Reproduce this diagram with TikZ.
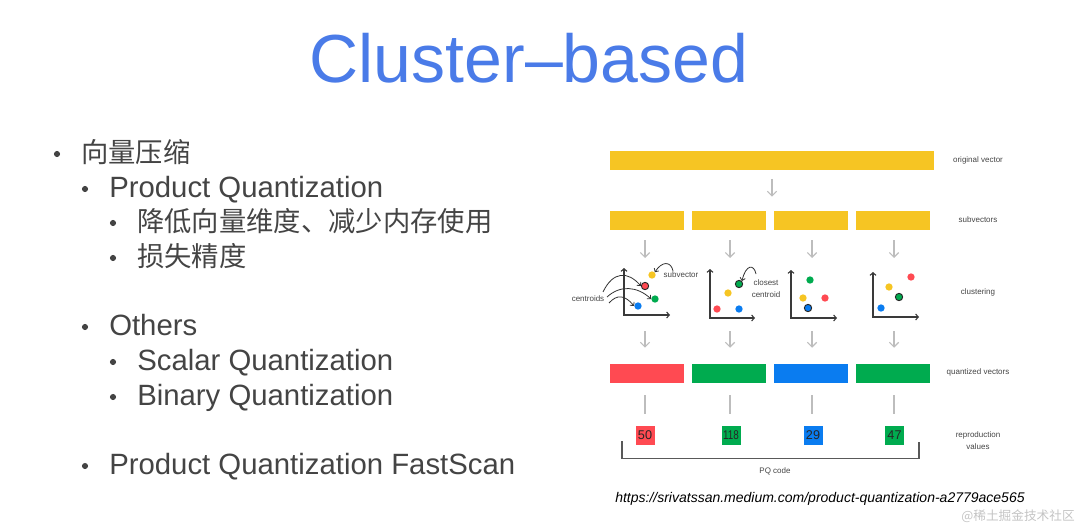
\documentclass[tikz,border=0pt]{standalone}
\usepackage{fontspec}
\usepackage{graphicx}
\setmainfont{Liberation Sans}
\newfontfamily\cjk{Noto Sans CJK SC}
\usetikzlibrary{arrows.meta}
\definecolor{titleblue}{HTML}{4A7BE8}
\definecolor{txtgray}{HTML}{444444}
\definecolor{pqyellow}{HTML}{F6C523}
\definecolor{pqred}{HTML}{FF4A52}
\definecolor{pqgreen}{HTML}{00AB4F}
\definecolor{pqblue}{HTML}{0A7CF0}
\definecolor{arrgray}{HTML}{BDBDBD}
\definecolor{axisgray}{HTML}{3A3A3A}
\definecolor{wmgray}{HTML}{C4C4C4}
\begin{document}
\begin{tikzpicture}[x=0.75pt,y=-0.75pt,
  bul/.style={circle,fill=txtgray,inner sep=0pt,minimum size=4.6pt},
  item/.style={anchor=base west,inner sep=0pt,text=txtgray,font=\fontsize{22}{25}\selectfont},
  cjkitem/.style={anchor=base west,inner sep=0pt,text=txtgray,font=\cjk\fontsize{20.5}{25}\selectfont},
  bar/.style={inner sep=0pt,minimum width=55.5pt,minimum height=14.25pt},
  lbl/.style={font=\fontsize{6}{9}\selectfont,text=txtgray,align=center,inner sep=0pt},
  flow/.style={draw=arrgray,line width=0.9pt,-{Straight Barb[length=3.5pt,width=7pt]}},
  stem/.style={draw=arrgray,line width=0.9pt},
  dot/.style={circle,inner sep=0pt,minimum size=5.5pt},
  cdot/.style={dot,draw=black!85,line width=0.7pt},
  axis/.style={draw=axisgray,line width=0.8pt,{Straight Barb[length=2pt,width=4.5pt]}-{Straight Barb[length=2pt,width=4.5pt]}},
  curv/.style={draw=black!80,line width=0.6pt,-{Straight Barb[length=2pt,width=4pt]}},
  code/.style={inner sep=0pt,minimum size=14.25pt,font=\fontsize{9.5}{9.5}\selectfont,text=black!85}
]
\useasboundingbox (0,0) rectangle (1080,528);

% title
\node[anchor=base,inner sep=0pt,text=titleblue,font=\fontsize{51}{60}\selectfont] (title) at (529,83) {Cluster–based};

% bullets
\node[bul] (b1) at (57,154) {};
\node[cjkitem] (t1) at (81,162) {向量压缩};
\node[bul] (b2) at (85,189) {};
\node[item] (t2) at (109,197) {Product Quantization};
\node[bul] (b3) at (113,223) {};
\node[cjkitem] (t3) at (137,231) {降低向量维度、减少内存使用};
\node[bul] (b4) at (113,258) {};
\node[cjkitem] (t4) at (137,266) {损失精度};
\node[bul] (b5) at (85,327) {};
\node[item] (t5) at (109,335) {Others};
\node[bul] (b6) at (113,362) {};
\node[item] (t6) at (137,370) {Scalar Quantization};
\node[bul] (b7) at (113,397) {};
\node[item] (t7) at (137,405) {Binary Quantization};
\node[bul] (b8) at (85,466) {};
\node[item] (t8) at (109,474) {Product Quantization FastScan};

% original vector
\node[bar,fill=pqyellow,minimum width=243pt] (orig) at (772,160.5) {};
\node[lbl] (lorig) at (978,160) {original vector};

% subvectors
\foreach \i/\x in {1/647,2/729,3/811,4/893}{
  \node[bar,fill=pqyellow] (s\i) at (\x,220.5) {};
}
\node[lbl] (lsub) at (978,220) {subvectors};
\draw[flow,shorten <=6.5pt,shorten >=10.5pt] (orig.south) -- (orig.south |- s1.north);

% arrows to clustering
\foreach \i/\x in {1/645,2/730,3/812,4/894}{
  \coordinate (c\i) at (\x,258);
  \draw[flow,shorten <=7.5pt] (s\i.south -| c\i) -- (c\i);
  \coordinate (d\i) at (\x,331);
}

% plots
\coordinate (o1) at (624,315); \coordinate (o2) at (710,318);
\coordinate (o3) at (791,318); \coordinate (o4) at (873,317);
\draw[axis] (624,268) -- (o1) -- (670,315);
\draw[axis] (710,269) -- (o2) -- (755,318);
\draw[axis] (791,270) -- (o3) -- (837,318);
\draw[axis] (873,272) -- (o4) -- (919,317);

% plot 1
\node[dot,fill=pqyellow] (p1y) at (652,275) {};
\node[cdot,fill=pqred] (p1r) at (645,286) {};
\node[dot,fill=pqgreen] (p1g) at (655,299) {};
\node[dot,fill=pqblue] (p1b) at (638,306) {};
\node[lbl] (lsv) at (681,275) {subvector};
\node[lbl] (lcen) at (588,299) {centroids};
\coordinate (sv0) at (673,271);
\draw[curv] (sv0) .. controls (671,261) and (662,261) .. (p1y.north east);
\coordinate (ce1) at (603,292);
\coordinate (ce2) at (607,297);
\coordinate (ce3) at (609,303);
\draw[curv] (ce1) .. controls (613,271) and (628,271) .. (p1r.west);
\draw[curv] (ce2) .. controls (620,285) and (637,286) .. (p1g.west);
\draw[curv] (ce3) .. controls (617,294) and (625,295) .. (p1b.west);

% plot 2
\node[cdot,fill=pqgreen] (p2g) at (739,284) {};
\node[dot,fill=pqyellow] (p2y) at (728,293) {};
\node[dot,fill=pqred] (p2r) at (717,309) {};
\node[dot,fill=pqblue] (p2b) at (739,309) {};
\node[lbl] (lcl) at (766,289) {closest\\centroid};
\coordinate (cl0) at (756,274);
\draw[curv] (cl0) .. controls (754,264) and (746,264) .. (p2g.north east);

% plot 3
\node[dot,fill=pqgreen] (p3g) at (810,280) {};
\node[dot,fill=pqyellow] (p3y) at (803,298) {};
\node[dot,fill=pqred] (p3r) at (825,298) {};
\node[cdot,fill=pqblue] (p3b) at (808,308) {};

% plot 4
\node[dot,fill=pqred] (p4r) at (911,277) {};
\node[dot,fill=pqyellow] (p4y) at (889,287) {};
\node[cdot,fill=pqgreen] (p4g) at (899,297) {};
\node[dot,fill=pqblue] (p4b) at (881,308) {};
\node[lbl] (lclu) at (978,292) {clustering};

% quantized vectors
\node[bar,fill=pqred] (q1) at (647,373.5) {};
\node[bar,fill=pqgreen] (q2) at (729,373.5) {};
\node[bar,fill=pqblue] (q3) at (811,373.5) {};
\node[bar,fill=pqgreen] (q4) at (893,373.5) {};
\node[lbl] (lq) at (978,372) {quantized vectors};
\foreach \i in {1,2,3,4}{
  \draw[flow,shorten >=12pt] (d\i) -- (d\i |- q\i.north);
}

% codes
\node[code,fill=pqred] (v1) at (645,435.5) {50};
\node[code,fill=pqgreen] (v2) at (731,435.5) {\scalebox{0.78}[1]{118}};
\node[code,fill=pqblue] (v3) at (813,435.5) {29};
\node[code,fill=pqgreen] (v4) at (894.5,435.5) {47};
\foreach \i/\x in {1/645,2/730,3/812,4/894}{
  \draw[stem,shorten <=9pt,shorten >=9pt] (\x,383) -- (v\i.north -| \x,0);
}
\node[lbl] (lrep) at (978,441) {reproduction\\values};

% bracket
\coordinate (bl) at (622,441);
\coordinate (br) at (919,441.5);
\draw[draw=black!65,line width=0.9pt] (bl) -- (622,458.5) -| (br);
\node[lbl] (lpq) at (775,471) {PQ code};

% url and watermark
\node[anchor=base west,inner sep=0pt,font=\itshape\fontsize{10.5}{12}\selectfont,text=black] (url) at (615,502) {https://srivatssan.medium.com/product-quantization-a2779ace565};
\node[inner sep=0pt,font=\cjk\fontsize{9.5}{11}\selectfont,text=wmgray] (wm) at (1018,516) {@稀土掘金技术社区};
\end{tikzpicture}
\end{document}
